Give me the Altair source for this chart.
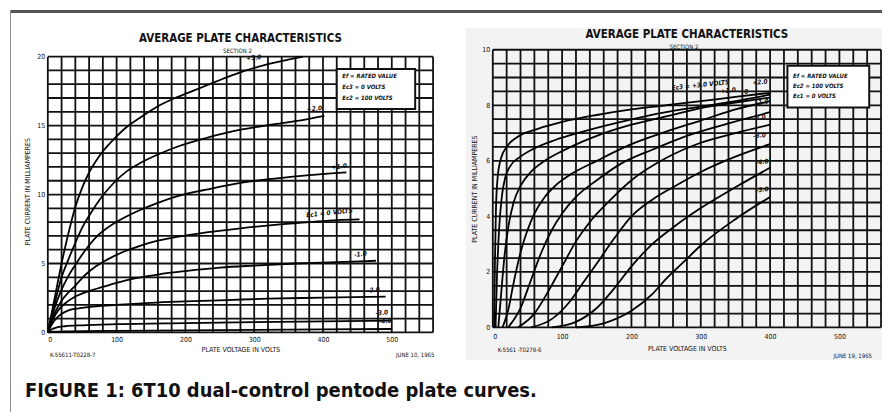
import altair as alt
import pandas as pd

# ---------------- data ----------------
# Left panel: Ec3 = 0 V, Ec2 = 100 V, curves for Ec1
L_P3 = [(0,0),(10,2.5),(20,5.0),(30,7.2),(40,9.1),(50,10.5),(60,11.6),(75,12.8),(90,13.7),(110,14.7),(135,15.6),(160,16.4),(185,17.0),(210,17.5),(235,18.0),(260,18.5),(285,18.95),(320,19.45),(371,20.0)]
L_P2 = [(0,0),(10,2.1),(20,4.0),(30,5.3),(40,6.5),(50,7.6),(63,8.7),(78,9.8),(95,10.8),(115,11.7),(135,12.3),(160,12.9),(190,13.5),(230,14.1),(280,14.7),(330,15.1),(370,15.4),(402,15.7)]
L_P1 = [(0,0),(10,1.8),(20,3.1),(30,4.1),(40,4.9),(55,6.0),(70,6.9),(87,7.6),(110,8.3),(135,8.9),(160,9.4),(190,9.9),(230,10.35),(280,10.85),(330,11.15),(380,11.4),(434,11.6)]
L_Z0 = [(0,0),(10,1.4),(20,2.3),(30,2.9),(40,3.4),(55,4.2),(70,4.8),(87,5.3),(110,5.85),(135,6.3),(160,6.65),(190,6.95),(230,7.25),(280,7.55),(330,7.8),(380,8.0),(420,8.15),(453,8.2)]
L_M1 = [(0,0),(8,1.0),(15,1.6),(25,2.1),(40,2.6),(60,3.0),(80,3.3),(100,3.6),(130,3.95),(160,4.2),(200,4.45),(250,4.7),(300,4.85),(360,5.0),(420,5.1),(477,5.2)]
L_M2 = [(0,0),(6,0.6),(12,1.0),(20,1.35),(30,1.6),(45,1.75),(70,1.9),(100,2.0),(150,2.15),(200,2.25),(260,2.35),(320,2.45),(400,2.52),(491,2.6)]
L_M3 = [(0,0),(5,0.2),(12,0.35),(25,0.45),(50,0.52),(100,0.6),(200,0.68),(300,0.75),(400,0.8),(500,0.85)]
L_M4 = [(0,0),(10,0.05),(30,0.08),(100,0.12),(200,0.15),(300,0.18),(400,0.22),(500,0.25)]
L_NAMES = ["+3.0", "+2.0", "+1.0", "0", "-1.0", "-2.0", "-3.0", "-4.0"]
L_CURVES = [L_P3, L_P2, L_P1, L_Z0, L_M1, L_M2, L_M3, L_M4]
L_LABELS = ["+3.0", "+2.0", "+1.0", "Ec1 = 0 VOLTS", "-1.0", "-2.0", "-3.0", "-4.0"]
L_LABEL_V = [300, 388, 424, 410, 455, 474, 486, 491]
L_LABEL_I = [19.7, 16.0, 11.8, 8.45, 5.45, 2.85, 1.2, 0.6]

# Right panel: Ec2 = 100 V, Ec1 = 0 V, curves for Ec3
R_P3 = [(2,0),(3,2.2),(4.5,4.2),(7,5.4),(12,6.1),(20,6.5),(35,6.85),(65,7.15),(100,7.4),(150,7.65),(200,7.85),(250,8.0),(300,8.15),(350,8.3),(400,8.45)]
R_P2 = [(4,0),(6,1.8),(9,3.5),(13,4.7),(18,5.4),(25,5.8),(40,6.15),(60,6.45),(90,6.75),(130,7.05),(185,7.4),(250,7.75),(300,7.95),(350,8.15),(400,8.38)]
R_P1 = [(8,0),(12,1.2),(17,2.6),(23,3.7),(30,4.5),(40,5.1),(55,5.6),(75,6.0),(100,6.35),(150,6.9),(200,7.3),(250,7.6),(300,7.9),(350,8.1),(400,8.28)]
R_Z0 = [(14,0),(22,0.6),(30,1.6),(40,2.7),(50,3.5),(60,4.1),(75,4.7),(90,5.1),(115,5.55),(150,6.0),(200,6.6),(250,7.05),(300,7.45),(350,7.85),(400,8.15)]
R_M1 = [(22,0),(40,0.7),(55,1.7),(70,2.7),(85,3.5),(100,4.1),(120,4.7),(150,5.3),(185,5.9),(230,6.4),(280,6.9),(340,7.35),(400,7.75)]
R_M2 = [(36,0),(60,0.5),(80,1.3),(100,2.2),(120,3.1),(140,3.8),(170,4.6),(200,5.3),(250,6.1),(300,6.65),(350,7.0),(400,7.3)]
R_M3 = [(55,0),(85,0.3),(110,0.9),(130,1.6),(150,2.3),(175,3.2),(200,4.0),(230,4.6),(260,5.05),(300,5.6),(350,6.15),(400,6.6)]
R_M4 = [(85,0),(120,0.2),(150,0.7),(175,1.4),(200,2.2),(230,3.0),(260,3.6),(300,4.3),(350,5.05),(400,5.75)]
R_M5 = [(120,0),(160,0.15),(200,0.6),(230,1.2),(250,1.75),(275,2.35),(300,2.95),(350,3.9),(400,4.7)]
R_NAMES = ["+3.0", "+2.0", "+1.0", "0", "-1.0", "-2.0", "-3.0", "-4.0", "-5.0"]
R_CURVES = [R_P3, R_P2, R_P1, R_Z0, R_M1, R_M2, R_M3, R_M4, R_M5]
R_LABELS = ["Ec3 = +3.0 VOLTS", "+2.0", "+1.0", "0", "-1.0", "-2.0", "-3.0", "-4.0", "-5.0"]
R_LABEL_V = [300, 386, 340, 366, 389, 385, 385, 389, 389]
R_LABEL_I = [8.62, 8.72, 8.42, 8.38, 8.0, 7.45, 6.8, 5.85, 4.85]

# axis ticks and grid spacing
X_TICKS = [0, 100, 200, 300, 400, 500]
L_Y_TICKS = [0, 5, 10, 15, 20]
R_Y_TICKS = [0, 2, 4, 6, 8, 10]
X_GRID = list(range(0, 561, 20))
L_Y_GRID = list(range(0, 21, 1))
R_Y_GRID = [k * 0.5 for k in range(0, 21)]

# note boxes
L_NOTE = ["Ef = RATED VALUE", "Ec3 = 0 VOLTS", "Ec2 = 100 VOLTS"]
L_NOTE_I = [18.6, 17.8, 17.0]
L_BOX = (420, 534, 16.2, 19.1)
R_NOTE = ["Ef = RATED VALUE", "Ec2 = 100 VOLTS", "Ec1 = 0 VOLTS"]
R_NOTE_I = [9.07, 8.7, 8.33]
R_BOX = (425, 543, 7.92, 9.42)

L_FOOT = [("K-55611-T0228-7", 3, -1.65, "left"), ("JUNE 10, 1965", 562, -1.65, "right")]
R_FOOT = [("K-5561 -T0278-6", 7, -0.8, "left"), ("JUNE 19, 1965", 547, -1.02, "right")]

TITLE = "AVERAGE PLATE CHARACTERISTICS"
SUBTITLE = "SECTION 2"
XTITLE = "PLATE VOLTAGE IN VOLTS"
YTITLE = "PLATE CURRENT IN MILLIAMPERES"
CAPTION = "FIGURE 1: 6T10 dual-control pentode plate curves."

COND = "DejaVu Sans Condensed, DejaVu Sans, sans-serif"
INK = "#111111"


def curves_df(names, curves):
    rows = []
    for n, c in zip(names, curves):
        for v, i in c:
            rows.append({"curve": n, "v": v, "i": i})
    return pd.DataFrame(rows)


def panel(names, curves, labels, lab_v, lab_i, y_dom, y_ticks, y_grid, w, h,
          note, note_i, box, foot, title_y, sub_y, x_lab_pad, x_title_pad, y_title_pad,
          before=(), after=()):
    xs = alt.Scale(domain=[0, 560], nice=False, zero=False)
    ys = alt.Scale(domain=y_dom, nice=False, zero=False)
    x_axis = alt.Axis(values=X_TICKS, title=XTITLE, grid=False, ticks=False, domain=False,
                      labelFont=COND, labelFontSize=7, labelColor=INK, labelPadding=x_lab_pad,
                      titleFont=COND, titleFontSize=7, titleFontWeight="normal",
                      titleColor=INK, titlePadding=x_title_pad, zindex=2)
    y_axis = alt.Axis(values=y_ticks, title=YTITLE, grid=False, ticks=False, domain=False,
                      labelFont=COND, labelFontSize=7, labelColor=INK, labelPadding=3,
                      titleFont=COND, titleFontSize=7, titleFontWeight="normal",
                      titleColor=INK, titlePadding=y_title_pad, zindex=2)
    X = alt.X("v:Q", scale=xs, axis=x_axis)
    Y = alt.Y("i:Q", scale=ys, axis=y_axis)
    ymax_grid = max(y_grid)
    vgrid = pd.DataFrame({"v": X_GRID, "i": [0] * len(X_GRID), "i2": [ymax_grid] * len(X_GRID)})
    hgrid = pd.DataFrame({"i": y_grid, "v": [0] * len(y_grid), "v2": [560] * len(y_grid)})

    vg = alt.Chart(vgrid).mark_rule(color=INK, strokeWidth=1.8).encode(x=X, y=Y, y2="i2:Q")
    hg = alt.Chart(hgrid).mark_rule(color=INK, strokeWidth=1.8).encode(x=X, x2="v2:Q", y=Y)
    box_df = pd.DataFrame({"v": [box[0]], "v2": [box[1]], "i": [box[2]], "i2": [box[3]]})
    boxc = alt.Chart(box_df).mark_rect(fill="white", stroke=INK, strokeWidth=2).encode(
        x=X, x2="v2:Q", y=Y, y2="i2:Q")
    note_df = pd.DataFrame({"t": note, "i": note_i, "v": [box[0] + 8] * len(note)})
    notec = alt.Chart(note_df).mark_text(align="left", baseline="middle", font=COND,
                                         fontSize=6, fontStyle="italic", fontWeight="bold",
                                         color=INK).encode(x=X, y=Y, text="t:N")
    lines = alt.Chart(curves_df(names, curves)).mark_line(
        color="black", strokeWidth=1.8, interpolate="monotone").encode(
        x=X, y=Y, detail="curve:N", order="v:Q")
    lab_df = pd.DataFrame({"t": labels, "v": lab_v, "i": lab_i})
    labc = alt.Chart(lab_df).mark_text(align="center", baseline="bottom", font=COND,
                                       fontSize=6.5, fontStyle="italic", fontWeight="bold",
                                       angle=354, color=INK).encode(x=X, y=Y, text="t:N")
    foot_df = pd.DataFrame({"t": [f[0] for f in foot], "v": [f[1] for f in foot],
                            "i": [f[2] for f in foot], "a": [f[3] for f in foot]})
    footl = alt.Chart(foot_df[foot_df.a == "left"]).mark_text(
        align="left", baseline="middle", font=COND, fontSize=6, color=INK).encode(
        x=X, y=Y, text="t:N")
    footr = alt.Chart(foot_df[foot_df.a == "right"]).mark_text(
        align="right", baseline="middle", font=COND, fontSize=6, color=INK).encode(
        x=X, y=Y, text="t:N")
    ttl = alt.Chart(pd.DataFrame({"t": [TITLE]})).mark_text(
        align="center", baseline="middle", font=COND, fontSize=11.5, fontWeight="bold",
        color=INK).encode(x=alt.value(w / 2), y=alt.value(title_y), text="t:N")
    sub = alt.Chart(pd.DataFrame({"t": [SUBTITLE]})).mark_text(
        align="center", baseline="middle", font=COND, fontSize=6, color=INK).encode(
        x=alt.value(w / 2 - 3), y=alt.value(sub_y), text="t:N")
    layers = list(before) + [vg, hg, lines, boxc, notec, labc, footl, footr, ttl, sub] + list(after)
    return alt.layer(*layers).properties(width=w, height=h)


one = pd.DataFrame({"k": [0]})

# decorations: figure frame lines, scanned-page tint, caption
top_line = alt.Chart(one).mark_rule(color="#555555", strokeWidth=3).encode(
    x=alt.value(-38), x2=alt.value(838), y=alt.value(-38.5))
left_line = alt.Chart(one).mark_rule(color="#8a8a8a", strokeWidth=1).encode(
    x=alt.value(-37.5), y=alt.value(-40), y2=alt.value(364))
caption = alt.Chart(pd.DataFrame({"t": [CAPTION]})).mark_text(
    align="left", baseline="alphabetic", font=COND, fontSize=20, fontWeight="bold",
    color="#111111").encode(x=alt.value(-23), y=alt.value(349), text="t:N")
scan_tint = alt.Chart(one).mark_rect(color="#f3f3f3").encode(
    x=alt.value(-27), x2=alt.value(391), y=alt.value(-22), y2=alt.value(312))

left = panel(L_NAMES, L_CURVES, L_LABELS, L_LABEL_V, L_LABEL_I, [0, 20.5], L_Y_TICKS, L_Y_GRID,
             387, 284, L_NOTE, L_NOTE_I, L_BOX, L_FOOT, -11, 1, 3, 3, 6,
             after=[top_line, left_line, caption])

right = panel(R_NAMES, R_CURVES, R_LABELS, R_LABEL_V, R_LABEL_I, [0, 10], R_Y_TICKS, R_Y_GRID,
              390, 279, R_NOTE, R_NOTE_I, R_BOX, R_FOOT, -15, -3, 5, 5, 4,
              before=[scan_tint])

chart = alt.hconcat(left, right, spacing=60, bounds="flush").properties(
    padding=0, background="white"
).configure_view(stroke=None)

chart.save("out.html", embed_options={"renderer": "svg", "actions": False})
